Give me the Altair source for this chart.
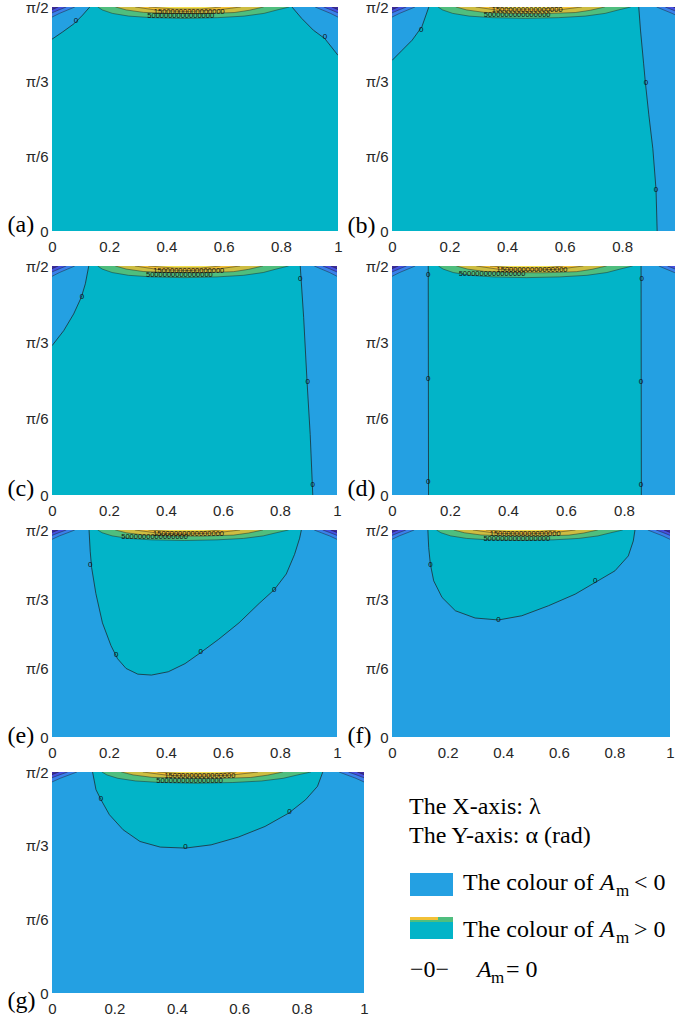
import json
import math

import altair as alt
import pandas as pd

HALF_PI = math.pi / 2
SANS = "Liberation Sans"
SERIF = "Liberation Serif"

TEAL = "#02B4C8"
BLUE = "#24A0E2"
LINE_COLOR = "#1c1c1c"
CORNER_COLORS = ["#3A80EA", "#4651E0", "#3D2A9E"]
BAND_COLORS = ["#4FBE7E", "#CDBD42", "#F2C136", "#F4DF4C"]

X_TICKS_FULL = [0, 0.2, 0.4, 0.6, 0.8, 1]
X_TICKS_CUT = [0, 0.2, 0.4, 0.6, 0.8]
Y_TICKS = [0, math.pi / 6, math.pi / 3, math.pi / 2]
Y_TICK_LABELS = ["0", "π/6", "π/3", "π/2"]
PANEL_LABELS = ["(a)", "(b)", "(c)", "(d)", "(e)", "(f)", "(g)"]
BAND_TEXTS = ["15000000000000000", "5000000000000000"]

# ---- shared: nested high-value bands just under alpha = pi/2 (lower edges)
BAND1_LAM = [0.160, 0.176, 0.211, 0.268, 0.349, 0.464, 0.579, 0.672, 0.741, 0.787, 0.830]
BAND1_ALPHA = [1.571, 1.550, 1.526, 1.507, 1.496, 1.491, 1.496, 1.507, 1.526, 1.550, 1.571]
BAND2_LAM = [0.222, 0.260, 0.320, 0.407, 0.522, 0.637, 0.690, 0.740]
BAND2_ALPHA = [1.571, 1.550, 1.533, 1.526, 1.524, 1.532, 1.548, 1.571]
BAND3_LAM = [0.291, 0.372, 0.476, 0.579, 0.660]
BAND3_ALPHA = [1.571, 1.547, 1.540, 1.550, 1.571]
BAND4_LAM = [0.338, 0.430, 0.522, 0.591]
BAND4_ALPHA = [1.571, 1.557, 1.557, 1.571]

# ---- shared: strongly negative corners (lower edges)
CORNER_L1_LAM = [0.0, 0.026, 0.055, 0.080]
CORNER_L1_ALPHA = [1.500, 1.526, 1.550, 1.571]
CORNER_L2_LAM = [0.0, 0.026, 0.050]
CORNER_L2_ALPHA = [1.530, 1.552, 1.571]
CORNER_L3_LAM = [0.0, 0.022]
CORNER_L3_ALPHA = [1.552, 1.571]
CORNER_R1_LAM = [0.920, 0.945, 0.974, 1.0]
CORNER_R1_ALPHA = [1.571, 1.550, 1.526, 1.500]
CORNER_R2_LAM = [0.950, 0.974, 1.0]
CORNER_R2_ALPHA = [1.571, 1.552, 1.530]
CORNER_R3_LAM = [0.978, 1.0]
CORNER_R3_ALPHA = [1.571, 1.552]

# ---- (a)
A_LEFT_LAM = [0.0, 0.038, 0.078, 0.107, 0.132]
A_LEFT_ALPHA = [1.345, 1.397, 1.455, 1.514, 1.571]
A_RIGHT_LAM = [0.839, 0.873, 0.914, 0.954, 1.0]
A_RIGHT_ALPHA = [1.571, 1.491, 1.408, 1.349, 1.232]
A_ZERO_LAM = [0.084, 0.954]
A_ZERO_ALPHA = [1.472, 1.361]
A_TEXT_LAM = [0.48, 0.45]
A_TEXT_ALPHA = [1.535, 1.505]

# ---- (b)
B_LEFT_LAM = [0.0, 0.035, 0.070, 0.104, 0.128]
B_LEFT_ALPHA = [1.196, 1.267, 1.338, 1.433, 1.571]
B_RIGHT_LAM = [0.858, 0.864, 0.875, 0.881, 0.893, 0.907, 0.918, 0.922]
B_RIGHT_ALPHA = [1.571, 1.409, 1.172, 1.041, 0.815, 0.577, 0.292, 0.0]
B_ZERO_LAM = [0.102, 0.883, 0.918]
B_ZERO_ALPHA = [1.409, 1.041, 0.288]
B_TEXT_LAM = [0.47, 0.435]
B_TEXT_ALPHA = [1.547, 1.517]

# ---- (c)
C_LEFT_LAM = [0.0, 0.041, 0.076, 0.103, 0.117, 0.129]
C_LEFT_ALPHA = [1.024, 1.127, 1.242, 1.357, 1.449, 1.571]
C_RIGHT_LAM = [0.871, 0.874, 0.883, 0.895, 0.906, 0.915]
C_RIGHT_ALPHA = [1.571, 1.484, 1.219, 0.775, 0.414, 0.0]
C_ZERO_LAM = [0.105, 0.871, 0.897, 0.915]
C_ZERO_ALPHA = [1.357, 1.484, 0.775, 0.069]
C_TEXT_LAM = [0.48, 0.447]
C_TEXT_ALPHA = [1.536, 1.506]

# ---- (d)
D_LEFT_LAM = [0.125, 0.126]
D_LEFT_ALPHA = [1.571, 0.0]
D_RIGHT_LAM = [0.859, 0.860]
D_RIGHT_ALPHA = [1.571, 0.0]
D_ZERO_LAM = [0.125, 0.125, 0.125, 0.861, 0.859, 0.859]
D_ZERO_ALPHA = [1.508, 0.797, 0.091, 1.485, 0.774, 0.068]
D_TEXT_LAM = [0.483, 0.345]
D_TEXT_ALPHA = [1.543, 1.514]

# ---- (e)
E_POS_LAM = [0.130, 0.134, 0.139, 0.154, 0.177, 0.207, 0.230, 0.260, 0.301, 0.349, 0.408,
             0.467, 0.520, 0.585, 0.656, 0.727, 0.780, 0.822, 0.851, 0.869, 0.875]
E_POS_ALPHA = [1.571, 1.410, 1.286, 1.088, 0.866, 0.693, 0.594, 0.520, 0.477, 0.470, 0.495,
               0.557, 0.638, 0.742, 0.866, 1.014, 1.118, 1.237, 1.385, 1.509, 1.571]
E_ZERO_LAM = [0.134, 0.225, 0.522, 0.780]
E_ZERO_ALPHA = [1.306, 0.626, 0.643, 1.118]
E_TEXT_LAM = [0.479, 0.36]
E_TEXT_ALPHA = [1.541, 1.514]

# ---- (f)
F_POS_LAM = [0.129, 0.132, 0.138, 0.150, 0.180, 0.228, 0.299, 0.383, 0.467, 0.563,
             0.659, 0.731, 0.802, 0.850, 0.868, 0.874]
F_POS_ALPHA = [1.571, 1.437, 1.311, 1.185, 1.059, 0.958, 0.903, 0.888, 0.920, 0.996,
               1.084, 1.173, 1.261, 1.374, 1.488, 1.571]
F_ZERO_LAM = [0.138, 0.383, 0.731]
F_ZERO_ALPHA = [1.306, 0.890, 1.180]
F_TEXT_LAM = [0.479, 0.449]
F_TEXT_ALPHA = [1.543, 1.505]

# ---- (g)
G_POS_LAM = [0.130, 0.141, 0.157, 0.184, 0.228, 0.282, 0.347, 0.428, 0.510, 0.597,
             0.683, 0.759, 0.813, 0.851, 0.868]
G_POS_ALPHA = [1.571, 1.445, 1.374, 1.267, 1.160, 1.077, 1.037, 1.030, 1.053, 1.108,
               1.184, 1.279, 1.374, 1.469, 1.571]
G_ZERO_LAM = [0.157, 0.428, 0.761]
G_ZERO_ALPHA = [1.381, 1.035, 1.286]
G_TEXT_LAM = [0.474, 0.441]
G_TEXT_ALPHA = [1.540, 1.504]

# ---- legend texts
LEGEND_HEAD = ["The X-axis: λ", "The Y-axis: α (rad)"]
LEGEND_PREFIX = "The colour of "
LEGEND_SYMBOL = "A"
LEGEND_SUB = "m"
LEGEND_RELS = ["< 0", "> 0", "= 0"]
LEGEND_LINE_SYMBOL = "−0−"

Y_EXPR = f"{json.dumps(Y_TICK_LABELS, ensure_ascii=False)}[round(datum.value / {math.pi / 6})]"


def encodings(label, xmax, xticks, height, title_dy):
    x = alt.X(
        "lam:Q",
        title=None,
        scale=alt.Scale(domain=[0, xmax], nice=False, zero=False),
        axis=alt.Axis(values=xticks, format="~g", labelFlush=False, labelOverlap=False,
                      ticks=False, domain=False, grid=False, labelPadding=8,
                      labelFont=SANS, labelFontSize=15, labelColor="#262626"),
    )
    y = alt.Y(
        "alpha:Q",
        title=label,
        scale=alt.Scale(domain=[0, HALF_PI], nice=False, zero=False),
        axis=alt.Axis(values=Y_TICKS, labelExpr=Y_EXPR, labelFlush=False, labelOverlap=False,
                      ticks=False, domain=False, grid=False, labelPadding=4,
                      labelFont=SANS, labelFontSize=15, labelColor="#262626",
                      titleAngle=0, titleAlign="left", titleBaseline="alphabetic",
                      titleX=-45, titleY=height + title_dy, titleFont=SERIF,
                      titleFontSize=24, titleFontWeight="normal", titleColor="black"),
    )
    return x, y


def cap_layer(lams, alphas, color, X, Y):
    df = pd.DataFrame({"lam": lams, "alpha": alphas, "top": [HALF_PI] * len(lams)})
    return alt.Chart(df).mark_area(color=color, clip=True, opacity=1).encode(
        x=X, y=Y, y2=alt.Y2("top"))


def strip_layer(lams, alphas, edge, color, X, Y):
    df = pd.DataFrame({"lam": lams, "alpha": alphas, "edge": [edge] * len(lams)})
    return alt.Chart(df).mark_area(color=color, clip=True, orient="horizontal", opacity=1).encode(
        x=X, x2=alt.X2("edge"), y=Y)


def line_layer(lams, alphas, X, Y, width=0.7, opacity=1.0):
    df = pd.DataFrame({"lam": lams, "alpha": alphas, "i": list(range(len(lams)))})
    return alt.Chart(df).mark_line(color=LINE_COLOR, strokeWidth=width, clip=True,
                                   opacity=opacity).encode(x=X, y=Y, order="i:Q")


def text_layer(lams, alphas, texts, X, Y, size):
    df = pd.DataFrame({"lam": lams, "alpha": alphas, "t": texts})
    return alt.Chart(df).mark_text(font=SANS, fontSize=size, color="#111111", clip=True).encode(
        x=X, y=Y, text="t:N")


def make_panel(label, xmax, xticks, width, height, title_dy, bg, regions,
               zero_lam, zero_alpha, text_lam, text_alpha):
    X, Y = encodings(label, xmax, xticks, height, title_dy)
    bg_df = pd.DataFrame({"lam": [0.0], "edge": [1.0], "alpha": [0.0], "top": [HALF_PI]})
    layers = [alt.Chart(bg_df).mark_rect(color=bg, clip=True).encode(
        x=X, x2=alt.X2("edge"), y=Y, y2=alt.Y2("top"))]
    for kind, lams, alphas, color in regions:
        if kind == "cap":
            layers.append(cap_layer(lams, alphas, color, X, Y))
        else:
            edge = 1.0 if kind == "strip_r" else 0.0
            layers.append(strip_layer(lams, alphas, edge, color, X, Y))
    corners = [
        (CORNER_L1_LAM, CORNER_L1_ALPHA, CORNER_COLORS[0]),
        (CORNER_R1_LAM, CORNER_R1_ALPHA, CORNER_COLORS[0]),
        (CORNER_L2_LAM, CORNER_L2_ALPHA, CORNER_COLORS[1]),
        (CORNER_R2_LAM, CORNER_R2_ALPHA, CORNER_COLORS[1]),
        (CORNER_L3_LAM, CORNER_L3_ALPHA, CORNER_COLORS[2]),
        (CORNER_R3_LAM, CORNER_R3_ALPHA, CORNER_COLORS[2]),
    ]
    bands = [
        (BAND1_LAM, BAND1_ALPHA, BAND_COLORS[0]),
        (BAND2_LAM, BAND2_ALPHA, BAND_COLORS[1]),
        (BAND3_LAM, BAND3_ALPHA, BAND_COLORS[2]),
        (BAND4_LAM, BAND4_ALPHA, BAND_COLORS[3]),
    ]
    for lams, alphas, color in corners + bands:
        layers.append(cap_layer(lams, alphas, color, X, Y))
    for _, lams, alphas, _ in regions:
        layers.append(line_layer(lams, alphas, X, Y))
    for lams, alphas, _ in corners + bands:
        layers.append(line_layer(lams, alphas, X, Y, width=0.6, opacity=0.75))
    layers.append(text_layer(zero_lam, zero_alpha, ["0"] * len(zero_lam), X, Y, 8))
    layers.append(text_layer(text_lam, text_alpha, BAND_TEXTS, X, Y, 7.5))
    return alt.layer(*layers).properties(width=width, height=height)


pa = make_panel(PANEL_LABELS[0], 1.0, X_TICKS_FULL, 286, 224, 0, TEAL,
                [("cap", A_LEFT_LAM, A_LEFT_ALPHA, BLUE), ("cap", A_RIGHT_LAM, A_RIGHT_ALPHA, BLUE)],
                A_ZERO_LAM, A_ZERO_ALPHA, A_TEXT_LAM, A_TEXT_ALPHA)
pb = make_panel(PANEL_LABELS[1], 0.984, X_TICKS_CUT, 283, 224, 1, TEAL,
                [("cap", B_LEFT_LAM, B_LEFT_ALPHA, BLUE), ("strip_r", B_RIGHT_LAM, B_RIGHT_ALPHA, BLUE)],
                B_ZERO_LAM, B_ZERO_ALPHA, B_TEXT_LAM, B_TEXT_ALPHA)
pc = make_panel(PANEL_LABELS[2], 1.0, X_TICKS_FULL, 285, 229, 0, TEAL,
                [("cap", C_LEFT_LAM, C_LEFT_ALPHA, BLUE), ("strip_r", C_RIGHT_LAM, C_RIGHT_ALPHA, BLUE)],
                C_ZERO_LAM, C_ZERO_ALPHA, C_TEXT_LAM, C_TEXT_ALPHA)
pd_ = make_panel(PANEL_LABELS[3], 0.976, X_TICKS_CUT, 283, 229, 0, TEAL,
                 [("strip_l", D_LEFT_LAM, D_LEFT_ALPHA, BLUE), ("strip_r", D_RIGHT_LAM, D_RIGHT_ALPHA, BLUE)],
                 D_ZERO_LAM, D_ZERO_ALPHA, D_TEXT_LAM, D_TEXT_ALPHA)
pe = make_panel(PANEL_LABELS[4], 1.0, X_TICKS_FULL, 285, 207, 5, BLUE,
                [("cap", E_POS_LAM, E_POS_ALPHA, TEAL)],
                E_ZERO_LAM, E_ZERO_ALPHA, E_TEXT_LAM, E_TEXT_ALPHA)
pf = make_panel(PANEL_LABELS[5], 1.0, X_TICKS_FULL, 278, 207, 5, BLUE,
                [("cap", F_POS_LAM, F_POS_ALPHA, TEAL)],
                F_ZERO_LAM, F_ZERO_ALPHA, F_TEXT_LAM, F_TEXT_ALPHA)
pg = make_panel(PANEL_LABELS[6], 1.0, X_TICKS_FULL, 312, 221, 14, BLUE,
                [("cap", G_POS_LAM, G_POS_ALPHA, TEAL)],
                G_ZERO_LAM, G_ZERO_ALPHA, G_TEXT_LAM, G_TEXT_ALPHA)

# ---- legend block (pixel layout inside its own view)
one = pd.DataFrame({"k": [0]})


def ltext(txt, x, y, size=24, style="normal"):
    return alt.Chart(one).mark_text(text=txt, align="left", baseline="alphabetic", font=SERIF,
                                    fontSize=size, fontStyle=style, color="black").encode(
        x=alt.value(x), y=alt.value(y))


def lrect(x, x2, y, y2, color):
    return alt.Chart(one).mark_rect(color=color).encode(
        x=alt.value(x), x2=alt.value(x2), y=alt.value(y), y2=alt.value(y2))


legend = alt.layer(
    ltext(LEGEND_HEAD[0], 17, 42),
    ltext(LEGEND_HEAD[1], 17, 71),
    lrect(18, 61, 101, 124, BLUE),
    ltext(LEGEND_PREFIX, 71, 118),
    ltext(LEGEND_SYMBOL, 208, 118, style="italic"),
    ltext(LEGEND_SUB, 224, 124, size=17),
    ltext(LEGEND_RELS[0], 242, 118),
    lrect(18, 61, 145, 167, TEAL),
    lrect(18, 61, 145, 150, BAND_COLORS[0]),
    lrect(18, 46, 145, 148, BAND_COLORS[2]),
    ltext(LEGEND_PREFIX, 71, 165),
    ltext(LEGEND_SYMBOL, 208, 165, style="italic"),
    ltext(LEGEND_SUB, 224, 171, size=17),
    ltext(LEGEND_RELS[1], 242, 165),
    ltext(LEGEND_LINE_SYMBOL, 18, 205),
    ltext(LEGEND_SYMBOL, 85, 205, style="italic"),
    ltext(LEGEND_SUB, 99, 211, size=17),
    ltext(LEGEND_RELS[2], 114, 205),
).properties(width=283, height=221)

chart = alt.concat(
    pa, pb, pc, pd_, pe, pf, pg, legend,
    columns=2,
    spacing={"row": 35, "column": 28},
    bounds="flush",
    align="each",
).properties(
    padding={"left": 7, "top": 0, "right": 0, "bottom": 0},
).configure_view(stroke=None)

chart.save("out.html", embed_options={"renderer": "svg", "actions": False})
